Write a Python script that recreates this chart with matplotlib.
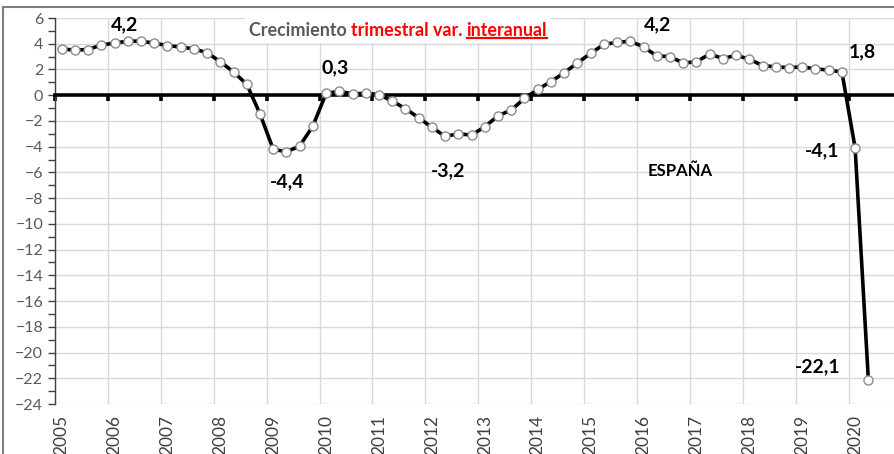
import matplotlib
matplotlib.use("Agg")
import matplotlib.pyplot as plt
from matplotlib.patches import Rectangle
from matplotlib.lines import Line2D

plt.rcParams['font.family'] = ['Lato', 'DejaVu Sans']

# datos: crecimiento trimestral, variacion interanual (%)
years = list(range(2005, 2021))
year_labels = [str(y) for y in years]
values = [
    3.6, 3.5, 3.55, 3.9,      # 2005
    4.05, 4.2, 4.2, 4.05,     # 2006
    3.85, 3.75, 3.6, 3.3,     # 2007
    2.6, 1.8, 0.85, -1.45,    # 2008
    -4.2, -4.4, -3.95, -2.4,  # 2009
    0.15, 0.3, 0.1, 0.15,     # 2010
    0.05, -0.45, -1.05, -1.75,  # 2011
    -2.5, -3.2, -3.0, -3.1,   # 2012
    -2.45, -1.6, -1.15, -0.25,  # 2013
    0.45, 1.05, 1.75, 2.5,    # 2014
    3.25, 3.95, 4.1, 4.2,     # 2015
    3.75, 3.05, 3.0, 2.5,     # 2016
    2.6, 3.2, 2.85, 3.1,      # 2017
    2.8, 2.3, 2.2, 2.15,      # 2018
    2.2, 2.05, 1.95, 1.8,     # 2019
    -4.1, -22.1,              # 2020
]
# etiquetas de valores destacados
label_texts = ["4,2", "-4,4", "0,3", "-3,2", "4,2", "1,8", "-4,1", "-22,1"]
label_pos = [(2006.32, 5.45), (2009.39, -6.7), (2010.29, 2.1), (2012.43, -5.9),
             (2016.38, 5.45), (2020.27, 3.35), (2019.5, -4.3), (2019.42, -21.1)]

x = [years[0] + (i + 0.5) / 4 for i in range(len(values))]

fig = plt.figure(figsize=(8.94, 4.54), dpi=100)
ax = fig.add_axes([55 / 894, 1 - 404 / 454, 1 - 55 / 894, (404 - 18) / 454])

ax.set_xlim(2005, 2020.86)
ax.set_ylim(-24, 6)

ax.set_xticks(years)
ax.set_xticklabels([])
ax.set_yticks(range(-24, 7, 2))
ax.set_yticks(range(-23, 6, 2), minor=True)
ax.grid(True, color="#d9d9d9", lw=1, zorder=0)
ax.set_axisbelow(True)

for s in ["top", "right"]:
    ax.spines[s].set_visible(False)
ax.spines["left"].set_color("#404040")
ax.spines["left"].set_linewidth(1)
ax.spines["bottom"].set_position(("data", 0))
ax.spines["bottom"].set_linewidth(2.6)
ax.spines["bottom"].set_zorder(3)
ax.tick_params(axis="x", direction="out", length=4, width=2.6, color="black")
ax.tick_params(axis="y", which="both", direction="out", length=5, width=1,
               color="#404040", labelcolor="#595959", labelsize=11.5)

sec = ax.secondary_xaxis("bottom")
sec.set_xticks([y + 0.125 for y in years])
sec.set_xticklabels(year_labels, rotation=90, fontsize=12.5, color="#404040")
sec.tick_params(length=0, pad=8)
sec.spines["bottom"].set_visible(False)

ax.plot(x, values, color="black", lw=2.6, marker="o", ms=6.5,
        mfc="white", mec="#8c8c8c", mew=1, zorder=4)

for t, (lx, ly) in zip(label_texts, label_pos):
    ax.text(lx, ly, t, ha="center", va="center", fontsize=14,
            fontweight="bold", color="black", zorder=5)

ax.text(2016.81, -5.9, "ESPAÑA", ha="center", va="center", fontsize=12,
        fontweight="bold", color="black", zorder=5)

# titulo en tres colores
ax.add_patch(Rectangle((2008.6, 4.05), 5.75, 2.0, facecolor="white",
                       edgecolor="none", zorder=2, clip_on=False))
t1 = ax.text(2008.66, 5.05, "Crecimiento ", ha="left", va="center",
             fontsize=12.9, fontweight="bold", color="#595959", zorder=5)
t2 = ax.annotate("trimestral var. ", xy=(1, 0), xycoords=t1, va="bottom",
                 fontsize=12.9, fontweight="bold", color="red", zorder=5)
t3 = ax.annotate("interanual", xy=(1, 0), xycoords=t2, va="bottom",
                 fontsize=12.9, fontweight="bold", color="red", zorder=5)
fig.canvas.draw()
bb = t3.get_window_extent()
fig.add_artist(Line2D([bb.x0, bb.x1], [bb.y0 + 1, bb.y0 + 1], color="red",
                      lw=1.6, transform=None))

# marco del grafico
fig.add_artist(Rectangle((3 / 894, -0.5), 1.5, 1.5 - 7 / 454,
                         transform=fig.transFigure, facecolor="none",
                         edgecolor="#7f7f7f", lw=1.5))

fig.savefig("out.png", dpi=100)
